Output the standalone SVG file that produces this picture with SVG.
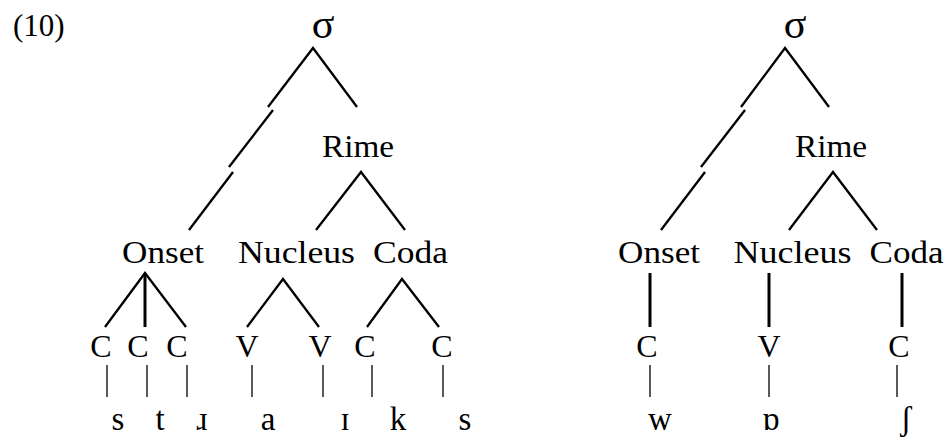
<svg xmlns="http://www.w3.org/2000/svg" width="947" height="438" viewBox="0 0 947 438">
<style>
text{font-family:"Liberation Serif","DejaVu Serif",serif;fill:#000;text-anchor:middle;font-size:31px}
.lab{text-anchor:start}
.sig{font-size:42px}
.cv{font-size:32px}
.seg{font-size:33px}
.e{fill:none;stroke:#000;stroke-width:2.3;stroke-linejoin:miter;stroke-linecap:butt}
.v{fill:none;stroke:#000;stroke-width:3}
.t{fill:none;stroke:#000;stroke-width:1.3}
</style>
<rect width="947" height="438" fill="#fff"/>
<text class="lab" x="13" y="36">(10)</text>
<g id="connectors">
  <polyline class="e" points="268,107 313,48 357,107"/>
  <line class="e" x1="273" y1="110" x2="229" y2="167"/>
  <line class="e" x1="233" y1="172" x2="189" y2="230"/>
  <polyline class="e" points="316,230 361,172 405,230"/>
  <polyline class="e" points="105,327 145,273 186,327"/>
  <line class="v" x1="145" y1="273" x2="145" y2="327"/>
  <polyline class="e" points="247,327 283,279 319,327"/>
  <polyline class="e" points="367,327 402,279 439,327"/>
  <line class="t" x1="107" y1="365" x2="107" y2="397"/>
  <line class="t" x1="147" y1="365" x2="147" y2="397"/>
  <line class="t" x1="187" y1="365" x2="187" y2="397"/>
  <line class="t" x1="252" y1="365" x2="252" y2="397"/>
  <line class="t" x1="323" y1="365" x2="323" y2="397"/>
  <line class="t" x1="372" y1="365" x2="372" y2="397"/>
  <line class="t" x1="443" y1="365" x2="443" y2="397"/>
  <polyline class="e" points="741,107 785,48 829,107"/>
  <line class="e" x1="745" y1="110" x2="701" y2="167"/>
  <line class="e" x1="705" y1="172" x2="661" y2="230"/>
  <polyline class="e" points="789,230 833,172 877,230"/>
  <line class="v" x1="650" y1="273" x2="650" y2="327"/>
  <line class="v" x1="769" y1="273" x2="769" y2="327"/>
  <line class="v" x1="902" y1="273" x2="902" y2="327"/>
  <line class="t" x1="650" y1="365" x2="650" y2="397"/>
  <line class="t" x1="769" y1="365" x2="769" y2="397"/>
  <line class="t" x1="897" y1="365" x2="897" y2="397"/>
</g>
<g id="sigma1"><text class="sig" x="323" y="38">σ</text></g>
<g id="rime1"><text x="358" y="157" textLength="72" lengthAdjust="spacingAndGlyphs">Rime</text></g>
<g id="onset1"><text x="163" y="263" textLength="82" lengthAdjust="spacingAndGlyphs">Onset</text></g>
<g id="nucleus1"><text x="296.5" y="263" textLength="117" lengthAdjust="spacingAndGlyphs">Nucleus</text></g>
<g id="coda1"><text x="410.5" y="263" textLength="75" lengthAdjust="spacingAndGlyphs">Coda</text></g>
<g id="c1"><text class="cv" x="101" y="357">C</text></g>
<g id="c2"><text class="cv" x="138" y="357">C</text></g>
<g id="c3"><text class="cv" x="177" y="357">C</text></g>
<g id="v1"><text class="cv" x="247" y="357">V</text></g>
<g id="v2"><text class="cv" x="320" y="357">V</text></g>
<g id="c4"><text class="cv" x="365" y="357">C</text></g>
<g id="c5"><text class="cv" x="442" y="357">C</text></g>
<g id="seg1"><text class="seg" x="118" y="430">s</text></g>
<g id="seg2"><text class="seg" x="160" y="430">t</text></g>
<g id="seg3"><text class="seg" x="202" y="430">ɹ</text></g>
<g id="seg4"><text class="seg" x="268" y="430">a</text></g>
<g id="seg5"><text class="seg" x="345" y="430">ɪ</text></g>
<g id="seg6"><text class="seg" x="398" y="430">k</text></g>
<g id="seg7"><text class="seg" x="465" y="430">s</text></g>
<g id="sigma2"><text class="sig" x="795" y="38">σ</text></g>
<g id="rime2"><text x="831" y="157" textLength="72" lengthAdjust="spacingAndGlyphs">Rime</text></g>
<g id="onset2"><text x="659" y="263" textLength="82" lengthAdjust="spacingAndGlyphs">Onset</text></g>
<g id="nucleus2"><text x="792.5" y="263" textLength="118" lengthAdjust="spacingAndGlyphs">Nucleus</text></g>
<g id="coda2"><text x="906.5" y="263" textLength="74" lengthAdjust="spacingAndGlyphs">Coda</text></g>
<g id="c6"><text class="cv" x="647" y="357">C</text></g>
<g id="v3"><text class="cv" x="769" y="357">V</text></g>
<g id="c7"><text class="cv" x="899" y="357">C</text></g>
<g id="seg8"><text class="seg" x="660" y="430">w</text></g>
<g id="seg9"><text class="seg" x="771" y="430">ɒ</text></g>
<g id="seg10"><text class="seg" x="906" y="430">ʃ</text></g>
</svg>
